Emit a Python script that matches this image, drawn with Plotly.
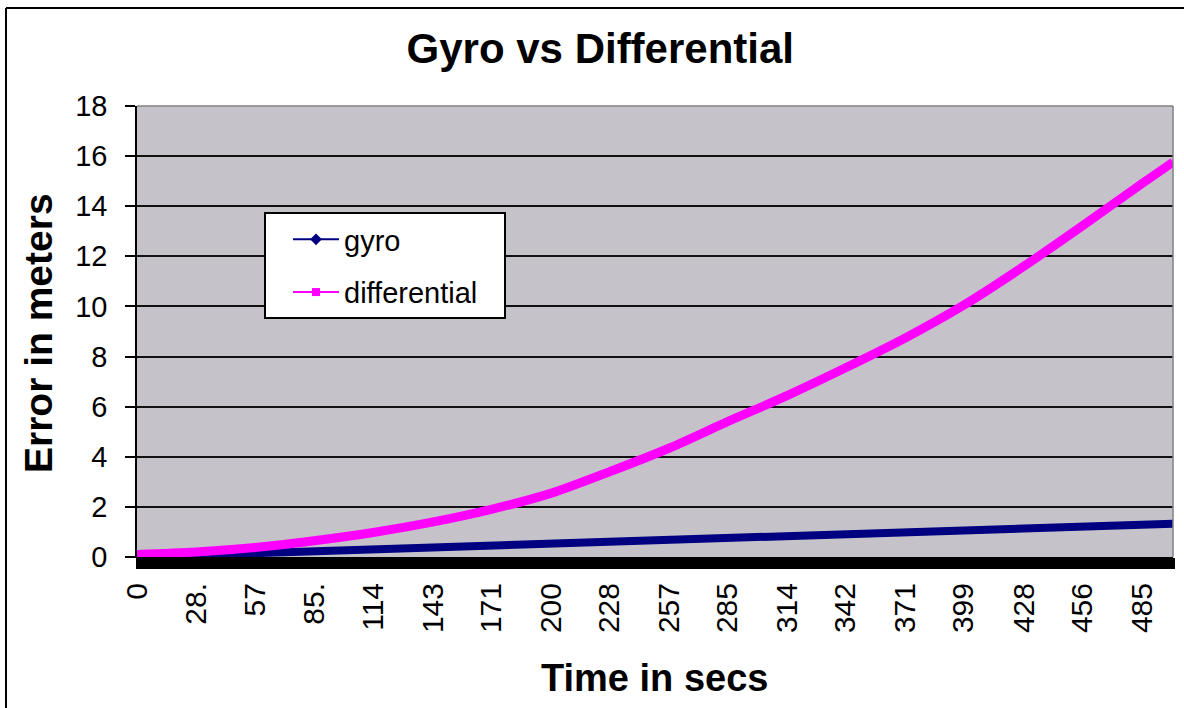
import plotly.graph_objects as go

# Time samples (seconds)
time_s = [0, 28.5, 57, 85.5, 114, 143, 171, 200, 228, 257, 285, 314, 342, 371, 399, 428, 456, 485, 500]
# Error in meters
gyro = [0.0, 0.08, 0.16, 0.24, 0.31, 0.39, 0.47, 0.55, 0.63, 0.71, 0.78, 0.86, 0.93, 1.01, 1.08, 1.16, 1.23, 1.30, 1.33]
differential = [0.1, 0.2, 0.38, 0.65, 0.98, 1.4, 1.9, 2.55, 3.4, 4.35, 5.4, 6.45, 7.55, 8.75, 10.05, 11.6, 13.2, 14.9, 15.76]

tick_times = [0, 28.5, 57, 85.5, 114, 143, 171, 200, 228, 257, 285, 314, 342, 371, 399, 428, 456, 485]
tick_labels = ["0", "28.", "57", "85.", "114", "143", "171", "200", "228", "257", "285", "314", "342",
               "371", "399", "428", "456", "485"]

NAVY = "#000080"
PINK = "#FF00FF"
FONT = "Liberation Sans, Arial, sans-serif"

fig = go.Figure()
fig.add_trace(go.Scatter(x=time_s, y=gyro, mode="lines", line=dict(color=NAVY, width=8),
                         showlegend=False, name="gyro"))
fig.add_trace(go.Scatter(x=time_s, y=differential, mode="lines",
                         line=dict(color=PINK, width=9, shape="spline", smoothing=0.8),
                         showlegend=False, name="differential"))
# legend entries (thin line + marker, like the original)
fig.add_trace(go.Scatter(x=[None], y=[None], mode="lines+markers", name="gyro", legendgroup="a",
                         line=dict(color=NAVY, width=2), marker=dict(symbol="diamond", size=9, color=NAVY)))
fig.add_trace(go.Scatter(x=[None], y=[None], mode="lines+markers", name="differential", legendgroup="b",
                         line=dict(color=PINK, width=2), marker=dict(symbol="square", size=8, color=PINK)))

L, R, T, B = 137, 11, 106, 151
W, H = 1184, 708
pw, ph = W - L - R, H - T - B

def px(x):
    return (x - L) / pw

def py(y):
    return (H - B - y) / ph

fig.update_layout(
    width=W, height=H,
    margin=dict(l=L, r=R, t=T, b=B, pad=0),
    paper_bgcolor="white",
    plot_bgcolor="#C6C2CA",
    font=dict(family=FONT, color="black"),
    title=dict(text="<b>Gyro vs Differential</b>", font=dict(size=42, family=FONT, color="black"),
               x=0.507, xref="container", xanchor="center",
               y=1 - 48 / H, yref="container", yanchor="middle"),
    showlegend=True,
    legend=dict(x=px(288), y=py(214), xanchor="left", yanchor="top",
                bgcolor="rgba(0,0,0,0)", borderwidth=0,
                font=dict(size=29, family=FONT, color="black"),
                tracegroupgap=12, traceorder="grouped", itemwidth=46),
    xaxis=dict(range=[0, 500], tickmode="array", tickvals=tick_times, ticktext=tick_labels,
               tickangle=-90, tickfont=dict(size=30, family=FONT, color="black"),
               ticks="outside", ticklen=11, tickwidth=3, tickcolor="black",
               minor=dict(tickmode="linear", tick0=0, dtick=1, ticks="outside", ticklen=11,
                          tickwidth=3, tickcolor="black", showgrid=False),
               showgrid=False, zeroline=False, showline=True, linecolor="black", linewidth=1,
               ticklabelstandoff=2),
    yaxis=dict(range=[0, 18], tickmode="linear", tick0=0, dtick=2,
               tickfont=dict(size=29, family=FONT, color="black"),
               ticks="outside", ticklen=10, tickwidth=1.5, tickcolor="black",
               showgrid=True, gridcolor="#111111", gridwidth=1.6,
               zeroline=False, showline=True, linecolor="black", linewidth=1.5,
               ticklabelstandoff=12),
    annotations=[
        dict(text="<b>Error in meters</b>", textangle=-90, xref="paper", yref="paper",
             x=px(38), y=py(333), xanchor="center", yanchor="middle", showarrow=False,
             font=dict(size=39, family=FONT, color="black")),
        dict(text="<b>Time in secs</b>", xref="paper", yref="paper",
             x=px(654), y=py(678), xanchor="center", yanchor="middle", showarrow=False,
             font=dict(size=38, family=FONT, color="black")),
    ],
    shapes=[
        # outer chart border (left and top edges visible in the frame)
        dict(type="line", xref="paper", yref="paper", x0=px(6), x1=px(6), y0=py(708), y1=py(8),
             line=dict(color="black", width=2), layer="above"),
        dict(type="line", xref="paper", yref="paper", x0=px(6), x1=px(1184), y0=py(8), y1=py(8),
             line=dict(color="black", width=2), layer="above"),
        # plot area border (top and right, gray)
        dict(type="line", xref="paper", yref="paper", x0=0, x1=1, y0=1, y1=1,
             line=dict(color="#808080", width=1.5), layer="above"),
        dict(type="line", xref="paper", yref="paper", x0=1, x1=1, y0=0, y1=1,
             line=dict(color="#808080", width=1.5), layer="above"),
        # legend box
        dict(type="rect", xref="paper", yref="paper", x0=px(265), x1=px(505), y0=py(318), y1=py(213),
             line=dict(color="black", width=2), fillcolor="white", layer="above"),
    ],
)

fig.write_html("out.html", config={"displayModeBar": False},
               post_script=("document.documentElement.style.overflow='hidden';"
                            "document.body.style.margin='0';document.body.style.overflow='hidden';"))
